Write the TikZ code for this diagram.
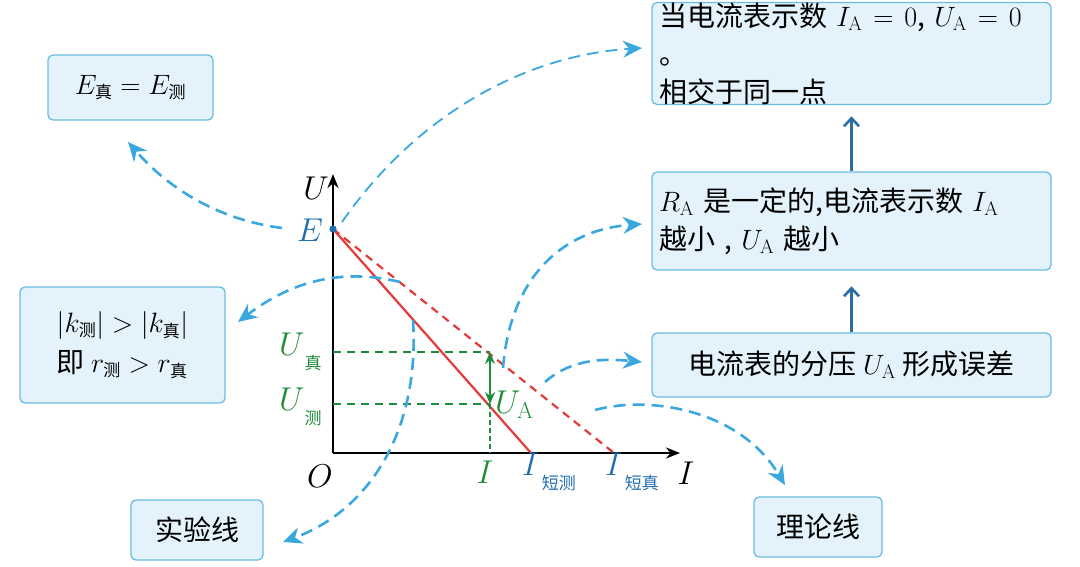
\RequirePackage{fix-cm}
\documentclass[tikz,border=0pt]{standalone}
\usepackage{fontspec}
\newfontfamily\cjk{Noto Sans CJK SC}
\usetikzlibrary{arrows.meta}
\definecolor{bfill}{HTML}{E4F3FB}
\definecolor{bdraw}{HTML}{6BBCE2}
\definecolor{cur}{HTML}{3AA8DF}
\definecolor{dblue}{HTML}{2B6CA6}
\definecolor{lblue}{HTML}{1F6CB0}
\definecolor{grn}{HTML}{1E8C3A}
\definecolor{rd}{HTML}{E43A3A}
\tikzset{
 box/.style={draw=bdraw,fill=bfill,rounded corners=5pt,line width=1.3pt,font=\fontsize{28}{38}\selectfont\cjk,inner sep=0pt},
 curv/.style={cur,dashed,dash pattern=on 12pt off 7pt,line width=2.6pt,-{Stealth[length=19pt,width=17pt]}},
 upar/.style={dblue,line width=2.6pt,-{Straight Barb[length=8pt,width=15pt]}},
 lab/.style={font=\fontsize{33}{36}\selectfont,inner sep=1pt}
}
\newcommand{\zh}[1]{\mbox{\cjk\fontsize{17}{17}\selectfont #1}}
\begin{document}
\begin{tikzpicture}[x=1pt,y=-1pt]
\useasboundingbox (0,0) rectangle (1080,566);
% boxes
\node[box,minimum width=165,minimum height=65] (b1) at (130.5,87.5) {$E_{\zh{真}}=E_{\zh{测}}$};
\node[box,minimum width=205,minimum height=116,align=left] (b2) at (122.5,345) {$\left|k_{\zh{测}}\right|>\left|k_{\zh{真}}\right|$\\[2pt]即 $r_{\zh{测}}>r_{\zh{真}}$};
\node[box,minimum width=132,minimum height=60] (b3) at (197,530) {实验线};
\node[box,minimum width=399,minimum height=97,align=left,text width=385] (b4) at (851.5,53.5) {当电流表示数 $I_{\mathrm{A}}=0$, $U_{\mathrm{A}}=0$ 。\\相交于同一点};
\node[box,minimum width=399,minimum height=98,align=left,text width=385] (b5) at (851.5,221) {$R_{\mathrm{A}}$ 是一定的,电流表示数 $I_{\mathrm{A}}$\\越小 , $U_{\mathrm{A}}$ 越小};
\node[box,minimum width=399,minimum height=64] (b6) at (851.5,365) {电流表的分压 $U_{\mathrm{A}}$ 形成误差};
\node[box,minimum width=128,minimum height=60] (b7) at (818,527) {理论线};
\draw[upar] (b6.north) -- ++(0,-46);
\draw[upar] (b5.north) -- ++(0,-55);
% axes
\coordinate (O) at (333,453);
\coordinate (Utop) at (333,174);
\coordinate (Iend) at (680,453);
\coordinate (E) at (333,229);
\coordinate (Sm) at (531,453);
\coordinate (St) at (614,453);
\draw[line width=2.6pt,-{Stealth[length=14pt,width=11pt]}] (O) -- (Utop);
\draw[line width=2.6pt,-{Stealth[length=14pt,width=11pt]}] (O) -- (Iend);
\draw[rd,line width=2.2pt] (E) -- (Sm);
\draw[rd,line width=2.2pt,dashed,dash pattern=on 8pt off 6pt] (E) -- (St);
\fill[lblue] (E) circle (3.6pt);
\coordinate (Ut) at (490,352);
\coordinate (Um) at (490,404);
\coordinate (Ix) at (490,453);
\draw[grn,line width=2pt,dashed,dash pattern=on 8pt off 6pt] (333,352) -- (Ut);
\draw[grn,line width=2pt,dashed,dash pattern=on 8pt off 6pt] (333,404) -- (Um);
\draw[grn,line width=1.6pt,dashed,dash pattern=on 5pt off 3pt] (Um) -- (Ix);
\draw[grn,line width=2.6pt,{Stealth[length=12pt,width=10pt]}-{Stealth[length=12pt,width=10pt]}] (Um) -- (Ut);
% labels
\node[lab] (lU) at (316,188) {$U$};
\node[lab,lblue] (lE) at (310,230) {$E$};
\node[lab] (lO) at (320,476) {$O$};
\node[lab] (lI) at (686,473) {$I$};
\node[lab,grn] (lIx) at (485,472) {$I$};
\node[lab,lblue,anchor=west] (lIs) at (521,472) {$I$\raisebox{-14pt}{\zh{\,短测}}};
\node[lab,lblue,anchor=west] (lIt) at (604,472) {$I$\raisebox{-14pt}{\zh{\,短真}}};
\node[lab,grn,anchor=west] (lUt) at (278,352) {$U$\raisebox{-14pt}{\zh{真}}};
\node[lab,grn,anchor=west] (lUm) at (278,407) {$U$\raisebox{-14pt}{\zh{测}}};
\node[lab,grn,anchor=west] (lUA) at (494,405) {$U_{\mathrm{A}}$};
% curves
\coordinate (c1s) at (342,222);
\draw[curv,line width=1.8pt] (c1s) .. controls (420,110) and (530,55) .. (642,48);
\coordinate (c2s) at (282,228);
\draw[curv] (c2s) .. controls (220,220) and (170,190) .. (128,142);
\coordinate (c3s) at (400,282);
\draw[curv] (c3s) .. controls (330,265) and (280,290) .. (238,322);
\coordinate (c4s) at (413,320);
\draw[curv] (c4s) .. controls (420,430) and (370,510) .. (283,542);
\coordinate (c5s) at (503,368);
\draw[curv] (c5s) .. controls (510,280) and (560,230) .. (642,224);
\coordinate (c6s) at (545,382);
\draw[curv] (c6s) .. controls (570,360) and (600,358) .. (642,362);
\coordinate (c7s) at (595,410);
\draw[curv] (c7s) .. controls (650,395) and (740,410) .. (785,485);
\end{tikzpicture}
\end{document}
